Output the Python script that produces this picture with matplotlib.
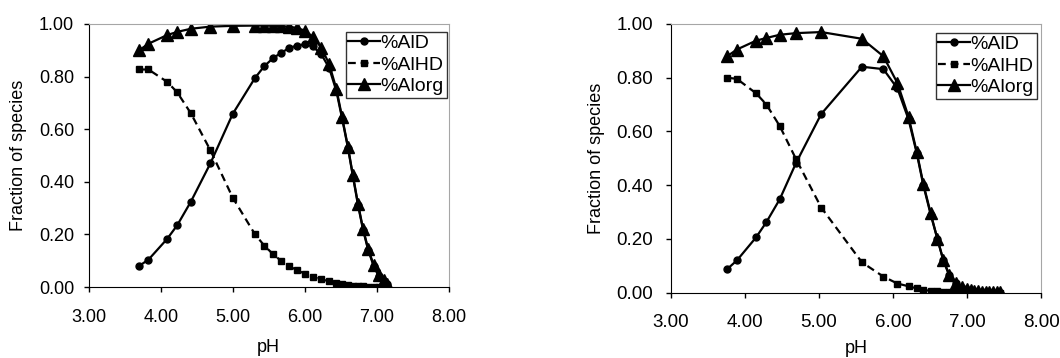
import matplotlib
matplotlib.use("Agg")
import matplotlib.pyplot as plt

plt.rcParams['font.family'] = ['Liberation Sans', 'DejaVu Sans']

# Left panel data
ph_a = [3.70, 3.83, 4.09, 4.23, 4.42, 4.69, 5.00, 5.31, 5.44, 5.56, 5.67, 5.78,
        5.89, 6.00, 6.11, 6.23, 6.34, 6.44, 6.52, 6.60, 6.67, 6.74, 6.81, 6.88,
        6.96, 7.03, 7.10, 7.14]
ald_a = [0.080, 0.104, 0.183, 0.235, 0.325, 0.470, 0.658, 0.795, 0.840, 0.870,
         0.890, 0.908, 0.918, 0.923, 0.915, 0.885, 0.833, 0.745, 0.640, 0.530,
         0.420, 0.312, 0.218, 0.142, 0.078, 0.040, 0.020, 0.010]
alhd_a = [0.827, 0.827, 0.780, 0.740, 0.660, 0.520, 0.340, 0.200, 0.157, 0.125,
          0.100, 0.080, 0.064, 0.051, 0.038, 0.029, 0.022, 0.015, 0.010, 0.007,
          0.005, 0.003, 0.002, 0.001, 0.001, 0.001, 0.000, 0.000]
alorg_a = [0.900, 0.925, 0.958, 0.970, 0.982, 0.990, 0.993, 0.994, 0.994, 0.993,
           0.992, 0.990, 0.985, 0.975, 0.952, 0.910, 0.848, 0.753, 0.645, 0.534,
           0.424, 0.317, 0.222, 0.146, 0.082, 0.044, 0.025, 0.013]

# Right panel data
ph_b = [3.76, 3.89, 4.15, 4.29, 4.47, 4.69, 5.03, 5.58, 5.87, 6.06, 6.21, 6.32,
        6.41, 6.51, 6.60, 6.68, 6.76, 6.85, 6.93, 7.00, 7.05, 7.10, 7.15, 7.20,
        7.25, 7.30, 7.35, 7.40, 7.45]
ald_b = [0.088, 0.120, 0.206, 0.263, 0.348, 0.483, 0.665, 0.841, 0.832, 0.760,
         0.645, 0.520, 0.400, 0.290, 0.200, 0.120, 0.065, 0.035, 0.018, 0.010,
         0.007, 0.005, 0.003, 0.002, 0.001, 0.001, 0.000, 0.000, 0.000]
alhd_b = [0.800, 0.796, 0.742, 0.700, 0.620, 0.497, 0.317, 0.113, 0.060, 0.034,
          0.024, 0.016, 0.010, 0.007, 0.005, 0.004, 0.003, 0.002, 0.001, 0.001,
          0.001, 0.000, 0.000, 0.000, 0.000, 0.000, 0.000, 0.000, 0.000]
alorg_b = [0.880, 0.905, 0.938, 0.948, 0.960, 0.966, 0.970, 0.945, 0.880, 0.780,
           0.655, 0.525, 0.405, 0.295, 0.200, 0.122, 0.066, 0.036, 0.020, 0.012,
           0.009, 0.007, 0.005, 0.004, 0.003, 0.002, 0.002, 0.001, 0.001]

x_ticks = [3, 4, 5, 6, 7, 8]
y_ticks = [0.0, 0.2, 0.4, 0.6, 0.8, 1.0]

W, H = 1060, 358
fig = plt.figure(figsize=(W / 100, H / 100), dpi=100)


def draw_panel(ax, ph, ald, alhd, alorg, fs, ypad, xlabel_pad, leg_anchor):
    ax.plot(ph, ald, color="black", lw=1.6, marker="o", ms=5, label="%AlD")
    ax.plot(ph, alhd, color="black", lw=1.6, ls=(0, (3.5, 2.2)), marker="s", ms=5,
            label="%AlHD")
    ax.plot(ph, alorg, color="black", lw=1.6, marker="^", ms=9, label="%Alorg")

    ax.set_xlim(3, 8)
    ax.set_ylim(0, 1)
    ax.set_xticks(x_ticks)
    ax.set_yticks(y_ticks)
    ax.set_xticklabels([f"{v:.2f}" for v in x_ticks], fontsize=fs)
    ax.set_yticklabels([f"{v:.2f}" for v in y_ticks], fontsize=fs)
    ax.tick_params(direction="out", length=3.5, width=1, color="black")
    ax.tick_params(axis="x", pad=12)
    ax.tick_params(axis="y", pad=ypad)

    # light grey frame on top/right, black axes lines
    for side in ["top", "right"]:
        ax.spines[side].set_color("#a6a6a6")
    for side in ["left", "bottom"]:
        ax.spines[side].set_color("black")

    ax.set_xlabel("pH", fontsize=13, labelpad=xlabel_pad)
    ax.set_ylabel("Fraction of species", fontsize=13, labelpad=8.5)

    leg = ax.legend(loc="upper right", bbox_to_anchor=leg_anchor,
                    bbox_transform=fig.transFigure, borderaxespad=0,
                    fontsize=14, frameon=True, fancybox=False,
                    handlelength=1.6, handletextpad=0.05, borderpad=0.15,
                    labelspacing=0.2)
    leg.get_frame().set_edgecolor("black")
    leg.get_frame().set_linewidth(1.0)


ax1 = fig.add_axes([88.7 / W, (H - 287) / H, 360 / W, 263 / H])
draw_panel(ax1, ph_a, ald_a, alhd_a, alorg_a, 13, 7, 9.5,
           (446.7 / W, 1 - 31.7 / H))

ax2 = fig.add_axes([671 / W, (H - 292.7) / H, 370 / W, 268.7 / H])
draw_panel(ax2, ph_b, ald_b, alhd_b, alorg_b, 13.5, 9.4, 6,
           (1036.7 / W, 1 - 32.7 / H))

plt.savefig("out.png", dpi=100)
plt.close()
